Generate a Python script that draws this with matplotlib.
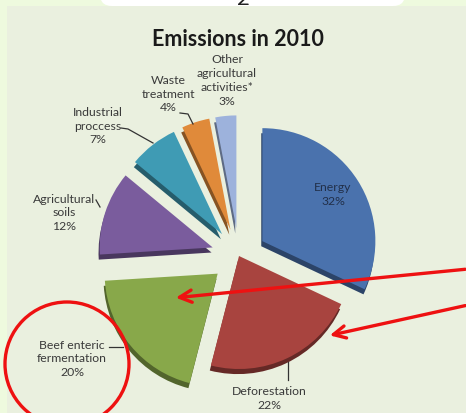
import matplotlib
matplotlib.use("Agg")
import matplotlib.pyplot as plt
from matplotlib.patches import Ellipse, Rectangle, FancyBboxPatch
from matplotlib.colors import to_rgb

# emission sources and their share of the total (%)
sectors = ["Energy", "Deforestation", "Beef enteric\nfermentation",
           "Agricultural\nsoils", "Industrial\nproccess",
           "Waste\ntreatment", "Other\nagricultural\nactivities*"]
shares = [32, 22, 20, 12, 7, 4, 3]
colors = ["#4a72ad", "#a8443f", "#88a84a", "#7a5c9d",
          "#3f9bb4", "#e08a3a", "#9db2dc"]
explode = [0.245, 0.0, 0.245, 0.245, 0.245, 0.245, 0.245]

plt.rcParams["font.family"] = ["Lato", "DejaVu Sans"]

W, H = 466, 413
R = 113                      # pie radius in pixels
cx, cy = 239, 256            # pie centre, pixels from top-left

fig = plt.figure(figsize=(W / 100, H / 100), dpi=100)
fig.patch.set_facecolor("#eefade")

# background: slide area plus the white strip at the top
bg = fig.add_axes([0, 0, 1, 1], zorder=0)
bg.set_xlim(0, W)
bg.set_ylim(H, 0)
bg.axis("off")
bg.add_patch(Rectangle((7, 6), W, H, color="#eaf0df", lw=0))
bg.add_patch(FancyBboxPatch((100, -20), 305, 26, boxstyle="round,pad=0,rounding_size=12",
                            color="white", lw=0))
bg.text(243, -1, "2", fontsize=16, ha="center", va="center", color="#222222")

# pie axes: 1 data unit == R pixels
axp = fig.add_axes([(cx - 2 * R) / W, (H - cy - 2 * R) / H, 4 * R / W, 4 * R / H], zorder=1)
axp.patch.set_alpha(0)
dark = [tuple(c * 0.6 for c in to_rgb(col)) for col in colors]
axp.pie(shares, explode=explode, colors=dark, startangle=90, counterclock=False,
        center=(-0.01, -0.045), radius=1, wedgeprops=dict(linewidth=0))
axp.pie(shares, explode=explode, colors=colors, startangle=90, counterclock=False,
        center=(0, 0), radius=1, wedgeprops=dict(linewidth=0))
axp.set_xlim(-2, 2)
axp.set_ylim(-2, 2)
axp.axis("off")

# titles, labels and markup in pixel coordinates
ax = fig.add_axes([0, 0, 1, 1], zorder=2)
ax.set_xlim(0, W)
ax.set_ylim(H, 0)
ax.axis("off")
ax.patch.set_alpha(0)

ax.text(238, 40, "Emissions in 2010", fontsize=15.5, fontweight="bold",
        ha="center", va="center", color="#1a1a1a")

label_pos = [(333, 194.5), (269, 398.5), (72, 359), (64, 213),
             (98, 126), (168, 94), (227, 80.5)]
for name, val, (x, y) in zip(sectors, shares, label_pos):
    col = "#22304a" if name == "Energy" else "#3a3a3a"
    ax.text(x, y, f"{name}\n{val}%", fontsize=8.8, ha="center", va="center",
            multialignment="center", linespacing=1.3, color=col)

# leader lines
lc = dict(color="#333333", lw=0.9)
ax.plot([180, 188, 193], [113, 114, 124], **lc)
ax.plot([121, 128, 153], [128, 129, 143], **lc)
ax.plot([96, 100], [200, 207], **lc)
ax.plot([109, 123], [347, 347], **lc)
ax.plot([288, 288], [362, 380], **lc)

# red highlight
ax.add_patch(Ellipse((67, 364), 124, 124, fill=False, ec="#ee1111", lw=2.4))
arrow = dict(arrowstyle="->", color="#ee1111", lw=2.4, mutation_scale=22)
ax.annotate("", xy=(173, 298), xytext=(468, 269), arrowprops=arrow)
ax.annotate("", xy=(327, 336), xytext=(468, 305), arrowprops=arrow)

fig.savefig("out.png", dpi=100, facecolor=fig.get_facecolor())
